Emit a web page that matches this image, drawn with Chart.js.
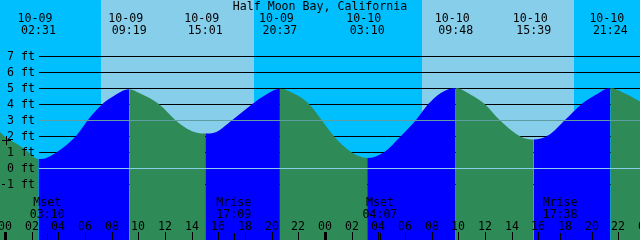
<!DOCTYPE html>
<html>
<head>
<meta charset="utf-8">
<script src="https://cdn.jsdelivr.net/npm/chart.js@4"></script>
<style>
  html, body { margin: 0; padding: 0; background: #fff; }
  canvas { display: block; }
</style>
</head>
<body>
<canvas id="tide" width="640" height="240"></canvas>
<script>
const stationName = "Half Moon Bay, California";

// water level (hours after 10-09 00:00, feet)
const tideHours = [-0.375, 0, 1, 1.725, 2.517, 3, 3.9, 5.33, 6.22, 7.31, 8, 9.317,
  10.15, 11.53, 12.77, 13.65, 14.4, 15.017, 15.675, 17.05, 18.55, 19.5, 20.617,
  21.92, 22.8, 23.7, 24.65, 25.95, 27.167, 28.45, 29.7, 30.825, 31.725, 32.72, 33.8,
  34.9, 35.98, 37.1, 38.72, 39.65, 40.75, 42, 43.25, 44.25, 45.4, 46.5, 47.625];
const tideFeet = [2.25, 1.95, 1.45, 1.0, 0.56, 0.6, 1.0, 2.0, 3.0, 4.0, 4.42, 4.92,
  4.65, 4.0, 3.0, 2.46, 2.21, 2.15, 2.2, 3.0, 4.0, 4.55, 4.96,
  4.54, 4.0, 3.04, 2.0, 1.0, 0.62, 1.0, 2.0, 3.0, 3.98, 4.71, 5.0,
  4.6, 4.0, 3.0, 1.94, 1.78, 2.04, 3.0, 4.0, 4.54, 5.0, 4.65, 4.15];

// high / low tide labels
const eventDays = [0, 0, 0, 0, 1, 1, 1, 1];
const eventDates = ["10-09", "10-09", "10-09", "10-09", "10-10", "10-10", "10-10", "10-10"];
const eventTimes = ["02:31", "09:19", "15:01", "20:37", "03:10", "09:48", "15:39", "21:24"];

// moon rise / set
const moonDays = [0, 0, 1, 1];
const moonNames = ["Mset", "Mrise", "Mset", "Mrise"];
const moonTimes = ["03:10", "17:09", "04:07", "17:38"];

// daylight (sunrise, sunset) in hours
const daylight = [[7.2, 18.68], [31.27, 42.67]];

const feetTicks = [7, 6, 5, 4, 3, 2, 1, 0, -1];
const hourTicks = [0, 2, 4, 6, 8, 10, 12, 14, 16, 18, 20, 22, 24, 26, 28, 30, 32, 34, 36, 38, 40, 42, 44, 46, 48];
const nowMark = [0.075, 1.75];

const FONT = '11.6px "DejaVu Sans Mono", "Liberation Mono", monospace';
const toHours = (day, t) => {
  const [h, m] = t.split(":").map(Number);
  return day * 24 + h + m / 60;
};
const pad2 = n => String(n % 24).padStart(2, "0");

const tidePlot = {
  id: "tidePlot",
  beforeDraw(chart) {
    const { ctx, chartArea: a, scales: { x, y } } = chart;
    ctx.save();
    ctx.fillStyle = "#00BFFF";
    ctx.fillRect(a.left, a.top, a.width, a.height);
    ctx.fillStyle = "#87CEEB";
    daylight.forEach(([r, s]) => {
      const x0 = Math.round(x.getPixelForValue(r));
      const x1 = Math.round(x.getPixelForValue(s));
      ctx.fillRect(x0, a.top, x1 - x0, a.height);
    });
    ctx.fillStyle = "#000";
    feetTicks.forEach(v => {
      ctx.fillRect(39, Math.round(y.getPixelForValue(v)), a.right - 39, 1);
    });
    ctx.restore();
  },
  afterDatasetsDraw(chart) {
    const { ctx, chartArea: a, scales: { x, y } } = chart;
    ctx.save();
    // datum and mean lines sit on top of the water
    ctx.fillStyle = "#87CEEB";
    ctx.fillRect(39, Math.round(y.getPixelForValue(0)), a.right - 39, 1);
    ctx.fillStyle = "#5F9EA0";
    ctx.fillRect(39, Math.round(y.getPixelForValue(3)), a.right - 39, 1);

    ctx.fillStyle = "#000";
    ctx.font = FONT;
    ctx.textBaseline = "alphabetic";

    ctx.textAlign = "center";
    ctx.fillText(stationName, 320, 10);

    eventTimes.forEach((t, i) => {
      const px = x.getPixelForValue(toHours(eventDays[i], t));
      ctx.fillText(eventDates[i], px - 3.5, 22);
      ctx.fillText(t, px, 34);
    });

    ctx.textAlign = "right";
    feetTicks.forEach(v => {
      ctx.fillText(v + " ft", 35, Math.round(y.getPixelForValue(v)) + 4);
    });

    ctx.textAlign = "center";
    moonTimes.forEach((t, i) => {
      const px = x.getPixelForValue(toHours(moonDays[i], t));
      ctx.fillText(moonNames[i], px, 206);
      ctx.fillText(t, px, 218);
      ctx.fillRect(Math.round(px), 233, 1, 7);
    });

    hourTicks.forEach(h => {
      const px = Math.round(x.getPixelForValue(h));
      ctx.fillText(pad2(h), px, 230);
      if (h % 24 === 0) ctx.fillRect(px - 1, 232, 3, 8);
      else ctx.fillRect(px, 232, 1, 8);
    });

    // "+" marker
    const cx = Math.round(x.getPixelForValue(nowMark[0]));
    const cy = Math.round(y.getPixelForValue(nowMark[1]));
    ctx.fillRect(cx - 4, cy, 9, 1);
    ctx.fillRect(cx, cy - 4, 1, 9);
    ctx.restore();
  }
};

const BLUE = "#0000FF", GREEN = "#2E8B57";

new Chart(document.getElementById("tide"), {
  type: "line",
  data: {
    datasets: [{
      data: tideHours.map((h, i) => ({ x: h, y: tideFeet[i] })),
      fill: "start",
      borderWidth: 0,
      borderColor: "rgba(0,0,0,0)",
      backgroundColor: GREEN,
      pointRadius: 0,
      cubicInterpolationMode: "monotone",
      segment: {
        backgroundColor: c => (c.p1.parsed.y > c.p0.parsed.y ? BLUE : GREEN)
      }
    }]
  },
  options: {
    responsive: false,
    animation: false,
    layout: { padding: 0 },
    plugins: { legend: { display: false }, tooltip: { enabled: false }, title: { display: false } },
    scales: {
      x: { type: "linear", min: -0.375, max: 47.625, display: false },
      y: { min: -4.5, max: 10.5, display: false }
    }
  },
  plugins: [tidePlot]
});
</script>
</body>
</html>
